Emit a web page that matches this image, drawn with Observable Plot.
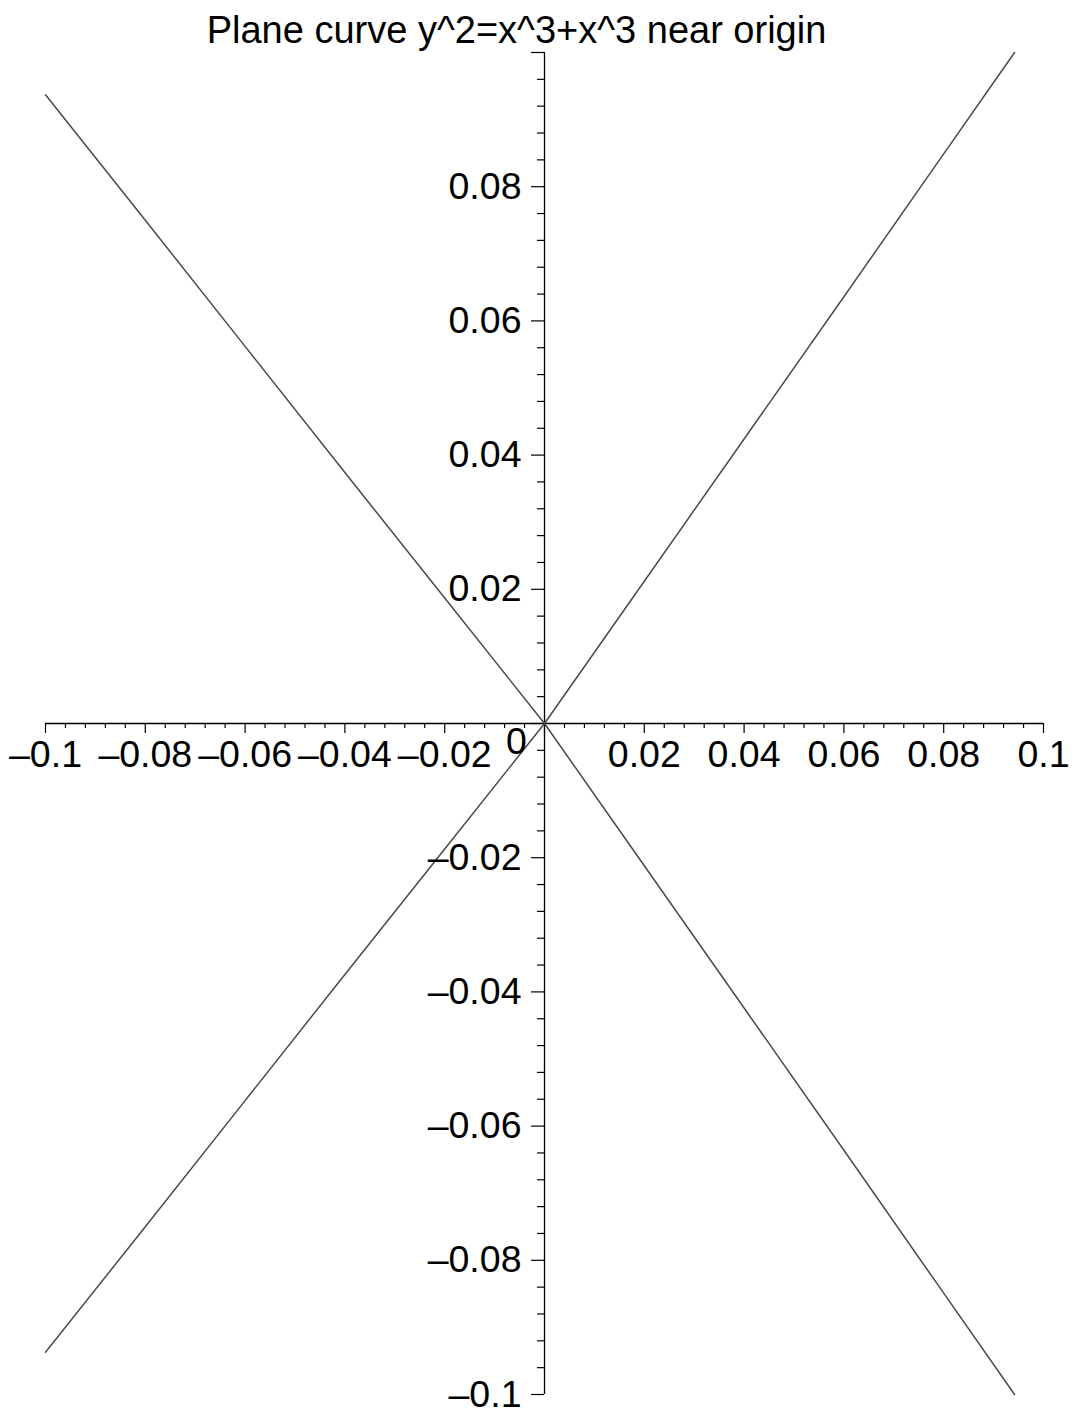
<!DOCTYPE html>
<html>
<head>
<meta charset="utf-8">
<script src="https://cdn.jsdelivr.net/npm/d3@7"></script>
<script src="https://cdn.jsdelivr.net/npm/@observablehq/plot@0.6"></script>
<style>
  html, body { margin: 0; padding: 0; background: #fff; }
  #chart svg { display: block; }
</style>
</head>
<body>
<div id="chart"></div>
<script>
// ---- data ----
const title = "Plane curve y^2=x^3+x^3 near origin";

// left half of the curve (x < 0): |y| values
const leftX = [-0.1, -0.08, -0.06, -0.04, -0.02, 0];
const leftY = [0.0937, 0.0750, 0.0562, 0.0374, 0.0187, 0];
// right half of the curve (x > 0): |y| values
const rightX = [0, 0.02, 0.04, 0.06, 0.08, 0.0942];
const rightY = [0, 0.0212, 0.0424, 0.0636, 0.0849, 0.1];

const majorTicks = [-0.1, -0.08, -0.06, -0.04, -0.02, 0, 0.02, 0.04, 0.06, 0.08, 0.1];
const minorTicks = d3.range(-25, 26).map(i => i * 0.004).filter(v => Math.abs(Math.round(v / 0.004)) % 5 !== 0);

const xLabelValues = [-0.1, -0.08, -0.06, -0.04, -0.02, 0.02, 0.04, 0.06, 0.08, 0.1];
const xLabelText = ["–0.1", "–0.08", "–0.06", "–0.04", "–0.02", "0.02", "0.04", "0.06", "0.08", "0.1"];
const yLabelValues = [0.08, 0.06, 0.04, 0.02, -0.02, -0.04, -0.06, -0.08, -0.1];
const yLabelText = ["0.08", "0.06", "0.04", "0.02", "–0.02", "–0.04", "–0.06", "–0.08", "–0.1"];

// two branches crossing at the node
const curve = [
  ...leftX.map((x, i) => ({branch: "A", x, y: leftY[i]})),
  ...rightX.map((x, i) => ({branch: "A", x, y: -rightY[i]})),
  ...leftX.map((x, i) => ({branch: "B", x, y: -leftY[i]})),
  ...rightX.map((x, i) => ({branch: "B", x, y: rightY[i]}))
];

const FS = 37.5;
const chart = Plot.plot({
  width: 1080,
  height: 1417,
  marginLeft: 45,
  marginRight: 37,
  marginTop: 52,
  marginBottom: 23,
  x: {domain: [-0.1, 0.1], axis: null},
  y: {domain: [-0.1, 0.1], axis: null},
  style: {fontFamily: "'Liberation Sans', Arial, sans-serif", background: "white", color: "black"},
  marks: [
    // axes lines
    Plot.ruleY([0], {x1: -0.1, x2: 0.1, stroke: "black", strokeWidth: 1.3}),
    Plot.ruleX([0], {y1: -0.1, y2: 0.1, stroke: "black", strokeWidth: 1.3}),
    // x ticks (pointing down)
    Plot.ruleX(majorTicks, {x: d => d, y1: 0, y2: 0, insetBottom: -10, stroke: "black", strokeWidth: 1.2}),
    Plot.ruleX(minorTicks, {x: d => d, y1: 0, y2: 0, insetBottom: -5, stroke: "black", strokeWidth: 1.2}),
    // y ticks (pointing left)
    Plot.ruleY(majorTicks, {y: d => d, x1: 0, x2: 0, insetLeft: -13, stroke: "black", strokeWidth: 1.2}),
    Plot.ruleY(minorTicks, {y: d => d, x1: 0, x2: 0, insetLeft: -7, stroke: "black", strokeWidth: 1.2}),
    // curve
    Plot.line(curve, {x: "x", y: "y", z: "branch", stroke: "#4a4a4a", strokeWidth: 1.5}),
    // tick labels
    Plot.text(xLabelValues, {x: d => d, y: 0, text: xLabelText, dy: 31, fontSize: FS, fill: "black"}),
    Plot.text(["0"], {x: 0, y: 0, text: d => d, dx: -28, dy: 18, fontSize: FS, fill: "black"}),
    Plot.text(yLabelValues, {x: 0, y: d => d, text: yLabelText, textAnchor: "end", dx: -23, fontSize: FS, fill: "black"}),
    // title
    Plot.text([title], {frameAnchor: "top", text: d => d, dx: -28, dy: -36, fontSize: 38, fill: "black"})
  ]
});
document.getElementById("chart").appendChild(chart);
</script>
</body>
</html>
